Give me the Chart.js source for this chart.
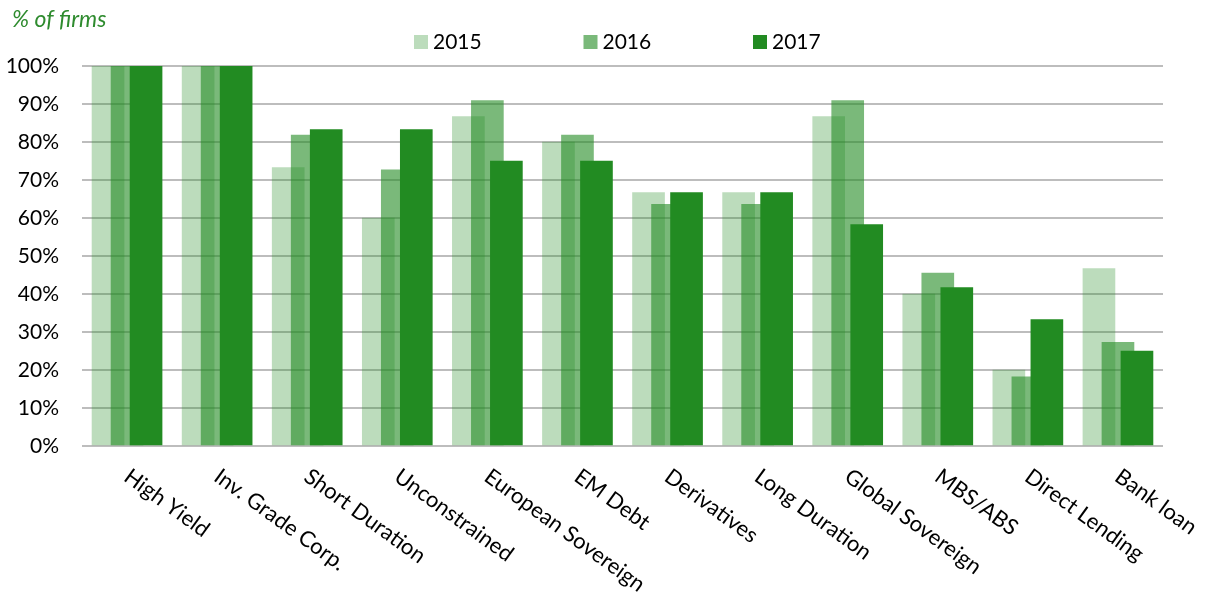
<!DOCTYPE html>
<html>
<head>
<meta charset="utf-8">
<script src="https://cdn.jsdelivr.net/npm/chart.js@4"></script>
<style>
  body { margin: 0; background: #fff; }
</style>
</head>
<body>
<canvas id="grafico" width="1207" height="596"></canvas>
<script>
const categories = ['High Yield', 'Inv. Grade Corp.', 'Short Duration', 'Unconstrained',
  'European Sovereign', 'EM Debt', 'Derivatives', 'Long Duration', 'Global Sovereign',
  'MBS/ABS', 'Direct Lending', 'Bank loan'];
const years = ['2015', '2016', '2017'];
const values2015 = [100, 100, 73.3, 60, 86.7, 80, 66.7, 66.7, 86.7, 40, 20, 46.7];
const values2016 = [100, 100, 81.8, 72.7, 90.9, 81.8, 63.6, 63.6, 90.9, 45.5, 18.2, 27.3];
const values2017 = [100, 100, 83.3, 83.3, 75, 75, 66.7, 66.7, 58.3, 41.7, 33.3, 25];
const yTicks = [0, 10, 20, 30, 40, 50, 60, 70, 80, 90, 100];

const colores = ['rgba(34,139,34,0.3)', 'rgba(34,139,34,0.6)', 'rgb(34,139,34)'];
const desplaz = [-0.211, 0, 0.211];   // overlapping bars inside each group
const fuente = 'Lato, "Open Sans", sans-serif';

function serie(vals, k) {
  return {
    label: years[k],
    data: vals.map((v, i) => ({ x: i + desplaz[k], y: v })),
    backgroundColor: colores[k],
    borderWidth: 0,
    barThickness: 32,
    grouped: false,
    order: 2 - k
  };
}

const extras = {
  id: 'extras',
  afterDraw(chart) {
    const ctx = chart.ctx;
    const xs = chart.scales.x;
    const bottom = chart.chartArea.bottom;
    ctx.save();
    // rotated category labels
    ctx.font = '22px ' + fuente;
    ctx.fillStyle = '#000';
    ctx.textAlign = 'left';
    ctx.textBaseline = 'top';
    categories.forEach((c, i) => {
      ctx.save();
      ctx.translate(xs.getPixelForValue(i) + 6, bottom + 19);
      ctx.rotate(36 * Math.PI / 180);
      ctx.fillText(c, 0, 0);
      ctx.restore();
    });
    // legend
    ctx.font = '21px ' + fuente;
    ctx.textBaseline = 'middle';
    years.forEach((y, k) => {
      const bx = 414 + k * 169.5;
      ctx.fillStyle = colores[k];
      ctx.fillRect(bx, 35, 14, 14);
      ctx.fillStyle = '#000';
      ctx.fillText(y, bx + 19, 42);
    });
    // axis title
    ctx.font = 'italic 23px ' + fuente;
    ctx.fillStyle = '#2e8b2e';
    ctx.textBaseline = 'alphabetic';
    ctx.fillText('% of firms', 12, 27);
    ctx.restore();
  }
};

const ctx = document.getElementById('grafico').getContext('2d');
new Chart(ctx, {
  type: 'bar',
  data: {
    datasets: [serie(values2015, 0), serie(values2016, 1), serie(values2017, 2)]
  },
  options: {
    responsive: false,
    animation: false,
    devicePixelRatio: 1,
    layout: { padding: { left: 0, right: 44, top: 66, bottom: 150 } },
    plugins: {
      legend: { display: false },
      tooltip: { enabled: false }
    },
    scales: {
      x: {
        type: 'linear',
        min: -0.5,
        max: 11.5,
        offset: false,
        ticks: { display: false },
        grid: { display: false, offset: false },
        border: { display: false },
        afterFit: s => { s.height = 0; }
      },
      y: {
        min: 0,
        max: 100,
        afterBuildTicks: s => { s.ticks = yTicks.map(v => ({ value: v })); },
        ticks: {
          callback: v => v + '%',
          color: '#000',
          padding: 23,
          font: { family: fuente, size: 21 }
        },
        grid: { color: '#bdbdbd', lineWidth: 2, drawTicks: false },
        border: { display: false },
        afterFit: s => { s.width = 82; }
      }
    }
  },
  plugins: [extras]
});
</script>
</body>
</html>
